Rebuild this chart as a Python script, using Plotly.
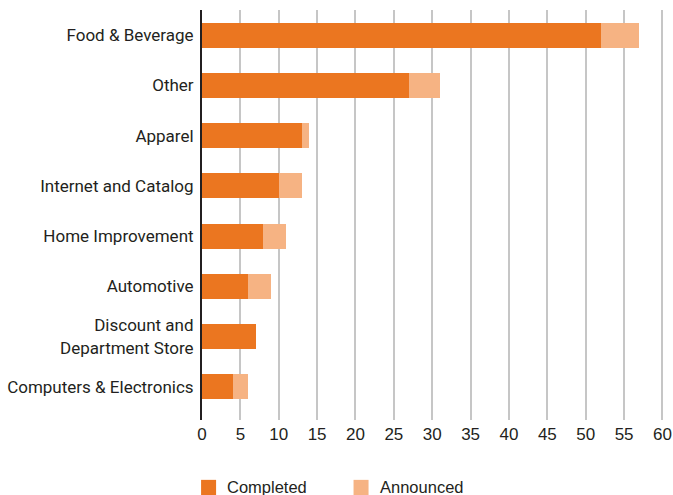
import plotly.graph_objects as go

# Sector categories, listed bottom-to-top as drawn on the y axis
categories = [
    "Computers & Electronics",
    "Discount and<br>Department Store",
    "Automotive",
    "Home Improvement",
    "Internet and Catalog",
    "Apparel",
    "Other",
    "Food & Beverage",
]
completed = [4, 7, 6, 8, 10, 13, 27, 52]
announced = [2, 0, 3, 3, 3, 1, 4, 5]

x_ticks = [0, 5, 10, 15, 20, 25, 30, 35, 40, 45, 50, 55, 60]
series_names = ["Completed", "Announced"]

COMPLETED_COLOR = "#EB7620"
ANNOUNCED_COLOR = "#F6B383"
TEXT_COLOR = "#231f20"
LABEL_FONT = "Roboto, Arial, sans-serif"
NUM_FONT = "Liberation Sans, Arial, sans-serif"

fig = go.Figure()
for name, vals, color in zip(series_names, [completed, announced],
                             [COMPLETED_COLOR, ANNOUNCED_COLOR]):
    fig.add_trace(go.Bar(
        y=categories, x=vals, name=name, orientation="h",
        marker=dict(color=color, line=dict(width=0)),
        showlegend=False,
    ))

# Legend drawn below the axis: colour swatch plus label for each series
legend_x = [-0.002, 0.328]
for name, color, x0 in zip(series_names, [COMPLETED_COLOR, ANNOUNCED_COLOR], legend_x):
    fig.add_shape(
        type="rect", xref="paper", yref="paper",
        x0=x0, x1=x0 + 0.0325, y0=-0.146, y1=-0.19,
        fillcolor=color, line=dict(width=0), layer="above",
    )
    fig.add_annotation(
        xref="paper", yref="paper", x=x0 + 0.052, y=-0.164,
        xanchor="left", yanchor="middle", text=name, showarrow=False,
        font=dict(family=NUM_FONT, size=16.5, color=TEXT_COLOR),
    )

fig.update_layout(
    barmode="stack",
    bargap=0.5,
    width=673, height=495,
    margin=dict(l=202, r=9, t=10, b=75, autoexpand=False),
    plot_bgcolor="white", paper_bgcolor="white",
    font=dict(family=LABEL_FONT, size=17, color=TEXT_COLOR),
    showlegend=False,
)
fig.update_xaxes(
    range=[0, 60.2], tickvals=x_ticks,
    showgrid=True, gridcolor="#c6c6c6", gridwidth=1.5,
    zeroline=False, showline=False,
    tickfont=dict(family=NUM_FONT, size=17, color=TEXT_COLOR),
    ticks="", ticklabelstandoff=2,
)
fig.update_yaxes(
    showgrid=False, showline=True, linecolor=TEXT_COLOR, linewidth=2,
    ticks="", ticklabelstandoff=3,
    range=[-0.66, 7.5],
)

fig.write_html("out.html")
